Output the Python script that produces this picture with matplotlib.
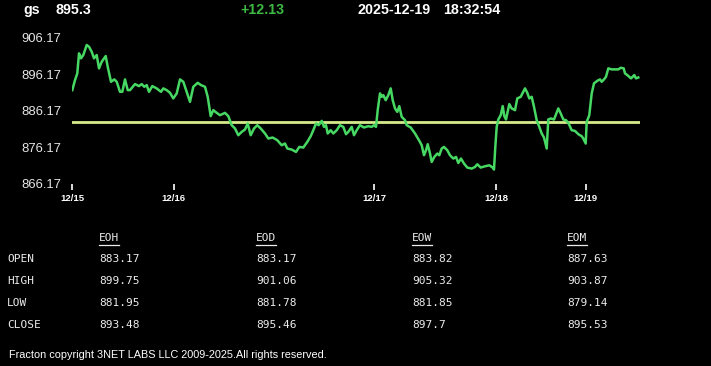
import matplotlib
matplotlib.use("Agg")
import matplotlib.pyplot as plt
from matplotlib.lines import Line2D

# ---------------- data ----------------
symbol = "gs"
last_price = "895.3"
change = "+12.13"
date_str = "2025-12-19"
time_str = "18:32:54"

t = [0.3, 3, 5.3, 7, 9, 11.3, 14.7, 17, 19.7, 22, 24.7, 27, 29.7, 33.7, 35.7, 39, 42.3, 44.7,
     48, 50.3, 53, 55.7, 58, 63, 67, 69.7, 72.3, 74.7, 77, 80.3, 84.7, 89, 91.3, 94.7, 98, 101.3,
     104.7, 108, 111.3, 114.7, 118, 121.3, 125.7, 129, 133, 135.7, 138.7, 141.3, 144.7, 148, 153,
     156.3, 159.7, 163, 166.3, 169.7, 173, 175.7, 178.7, 182, 185.3, 188.7, 193, 196.3, 200.7,
     205.3, 209.7, 213, 215.3, 219.7, 224, 227.3, 231.3, 235.3, 238.7, 241.3, 244, 246.7, 249.7,
     252, 254, 255.7, 258.7, 261.3, 264.7, 268, 271.3, 274, 276.3, 279.7, 282, 284.7, 288, 292,
     296.3, 299.7, 302, 304, 305.7, 308, 309.7, 311.3, 313.7, 316.3, 318.7, 320.7, 323, 325.3,
     327.3, 329.7, 333, 334.7, 338.7, 343, 347, 349.7, 352, 354, 355.7, 358, 359.7, 362.3, 365.3,
     367.3, 369.7, 372, 375.3, 378, 381.3, 384, 386.3, 389, 392, 395.3, 399.7, 403, 405.3, 408.7,
     413, 417.3, 420.7, 422, 423.3, 424.7, 426.3, 428.7, 430.7, 432.3, 434, 437.3, 439.7, 443,
     445.3, 448.7, 453, 455.3, 457.3, 459.7, 462, 464.7, 467.3, 469.7, 472, 474.7, 476.3, 478.7,
     482, 486.3, 488.7, 491.3, 494, 496.3, 499.7, 503, 506.3, 509.7, 511.3, 513.7, 514.7, 517.3,
     519.7, 522, 525.3, 528, 529.7, 532, 534, 536.3, 539.7, 543, 546.3, 548.7, 551.7, 553, 555.3,
     559, 562.3, 564, 566.3]
price = [891.84, 894.58, 896.42, 901.90, 900.53, 901.43, 904.17, 903.70, 902.33, 900.53, 901.43,
         897.79, 899.59, 901.16, 898.22, 894.12, 894.77, 894.12, 891.38, 891.38, 894.77, 891.84,
         891.84, 893.49, 892.94, 893.49, 892.75, 893.21, 891.38, 892.94, 892.31, 891.38, 892.31,
         891.84, 891.10, 889.57, 890.94, 894.77, 894.12, 891.38, 888.64, 892.75, 893.84, 893.21,
         892.75, 890.01, 884.72, 886.36, 885.62, 884.99, 885.62, 884.72, 882.25, 881.35, 879.51,
         880.42, 881.07, 882.72, 879.51, 881.35, 882.25, 881.35, 879.98, 878.61, 878.88, 878.14,
         876.77, 877.24, 875.87, 875.59, 874.94, 876.31, 876.14, 877.68, 879.24, 880.88, 882.72,
         882.25, 883.43, 881.79, 882.25, 879.98, 880.88, 879.98, 880.88, 882.25, 881.79, 879.79,
         880.42, 881.79, 879.51, 880.88, 882.25, 881.62, 881.98, 881.79, 882.25, 881.79, 886.36,
         890.94, 890.01, 890.47, 889.10, 890.47, 892.31, 889.10, 886.83, 885.90, 887.46, 884.53,
         883.62, 882.25, 881.62, 879.98, 878.14, 876.77, 874.03, 875.40, 877.05, 874.50, 872.20,
         873.57, 874.50, 874.03, 875.87, 876.31, 875.40, 874.03, 873.13, 873.57, 871.92, 873.13,
         871.76, 870.66, 870.39, 870.83, 871.57, 870.66, 871.02, 871.29, 870.66, 870.12, 876.31,
         881.79, 883.81, 884.99, 887.46, 884.72, 883.81, 888.01, 886.83, 886.36, 889.57, 890.01,
         892.31, 891.10, 889.57, 890.01, 887.27, 883.62, 881.79, 879.98, 878.88, 875.87, 883.81,
         884.09, 883.81, 886.83, 885.46, 883.81, 883.62, 882.88, 880.88, 880.69, 879.79, 879.24,
         878.61, 877.24, 883.16, 884.99, 890.94, 893.68, 894.39, 894.77, 894.12, 894.77, 895.49,
         897.79, 897.51, 897.51, 897.51, 897.95, 897.79, 896.42, 895.95, 895.05, 895.95, 895.05,
         895.30]
ref_level = 883.17

xtick_pos = [0, 101.5, 302.3, 424.3, 513.7]
xtick_labels = ["12/15", "12/16", "12/17", "12/18", "12/19"]
ytick_vals = [866.17, 876.17, 886.17, 896.17, 906.17]

col_headers = ["EOH", "EOD", "EOW", "EOM"]
row_labels = ["OPEN", "HIGH", "LOW", "CLOSE"]
table_vals = [
    ["883.17", "883.17", "883.82", "887.63"],
    ["899.75", "901.06", "905.32", "903.87"],
    ["881.95", "881.78", "881.85", "879.14"],
    ["893.48", "895.46", "897.7", "895.53"],
]
footer = "Fracton copyright 3NET LABS LLC 2009-2025.All rights reserved."

# ---------------- figure ----------------
W, H = 711, 366
fig = plt.figure(figsize=(W / 100, H / 100), dpi=100, facecolor="black")

def fx(px):
    return px / W

def fy(py):
    return 1 - py / H

ax = fig.add_axes([fx(72), fy(184), (640 - 72) / W, (184 - 30) / H])
ax.set_facecolor("black")
for s in ax.spines.values():
    s.set_visible(False)

ax.plot(t, price, color="#46d862", lw=1.8, solid_joinstyle="round", zorder=3)
ax.axhline(ref_level, color="#d6ec8c", lw=2.0, zorder=2)

ax.set_xlim(0, 568)
ax.set_ylim(866.17, 906.17 + 7.7 / 3.65)

ax.set_xticks(xtick_pos)
ax.set_xticklabels(xtick_labels)
ax.set_yticks(ytick_vals)
ax.set_yticklabels([f"{v:.2f}" for v in ytick_vals])

ax.tick_params(axis="x", colors="white", length=4, width=1.2, direction="out", pad=3.5,
               labelsize=6.8)
ax.tick_params(axis="y", length=0, pad=7.5, labelsize=9.4, labelcolor="#e6e6e6")
for lbl in ax.get_xticklabels():
    lbl.set_fontfamily("Liberation Sans")
    lbl.set_fontweight("bold")
for lbl in ax.get_yticklabels():
    lbl.set_fontfamily("Liberation Sans")

# ---------------- header ----------------
hkw = dict(fontsize=10.3, fontweight="bold", family="Liberation Sans", va="center", ha="left")
fig.text(fx(23), fy(10), symbol, color="white", **hkw)
fig.text(fx(56), fy(10), last_price, color="white", **hkw)
fig.text(fx(240.5), fy(10), change, color="#3cb843", **hkw)
fig.text(fx(357), fy(10), date_str, color="white", **hkw)
fig.text(fx(443), fy(10), time_str, color="white", **hkw)

# ---------------- table ----------------
tkw = dict(fontsize=8.0, family="DejaVu Sans Mono", color="#ececec", va="center", ha="left")
col_x = [99, 256, 412, 567]
row_y = [259, 281, 303, 325]
header_y = 238

fig.canvas.draw()
renderer = fig.canvas.get_renderer()
for cx, name in zip(col_x, col_headers):
    txt = fig.text(fx(cx), fy(header_y), name, **tkw)
    bb = txt.get_window_extent(renderer=renderer)
    fig.add_artist(Line2D([bb.x0 / W, bb.x1 / W], [fy(244.5), fy(244.5)],
                          transform=fig.transFigure, color="#ececec", lw=0.9))
for ry, rlab, rvals in zip(row_y, row_labels, table_vals):
    fig.text(fx(7), fy(ry), rlab, **tkw)
    for cx, v in zip(col_x, rvals):
        fig.text(fx(cx), fy(ry), v, **tkw)

fig.text(fx(9), fy(355.5), footer, fontsize=7.85, family="Liberation Sans", color="white",
         va="center", ha="left")

fig.savefig("out.png", dpi=100, facecolor="black")
